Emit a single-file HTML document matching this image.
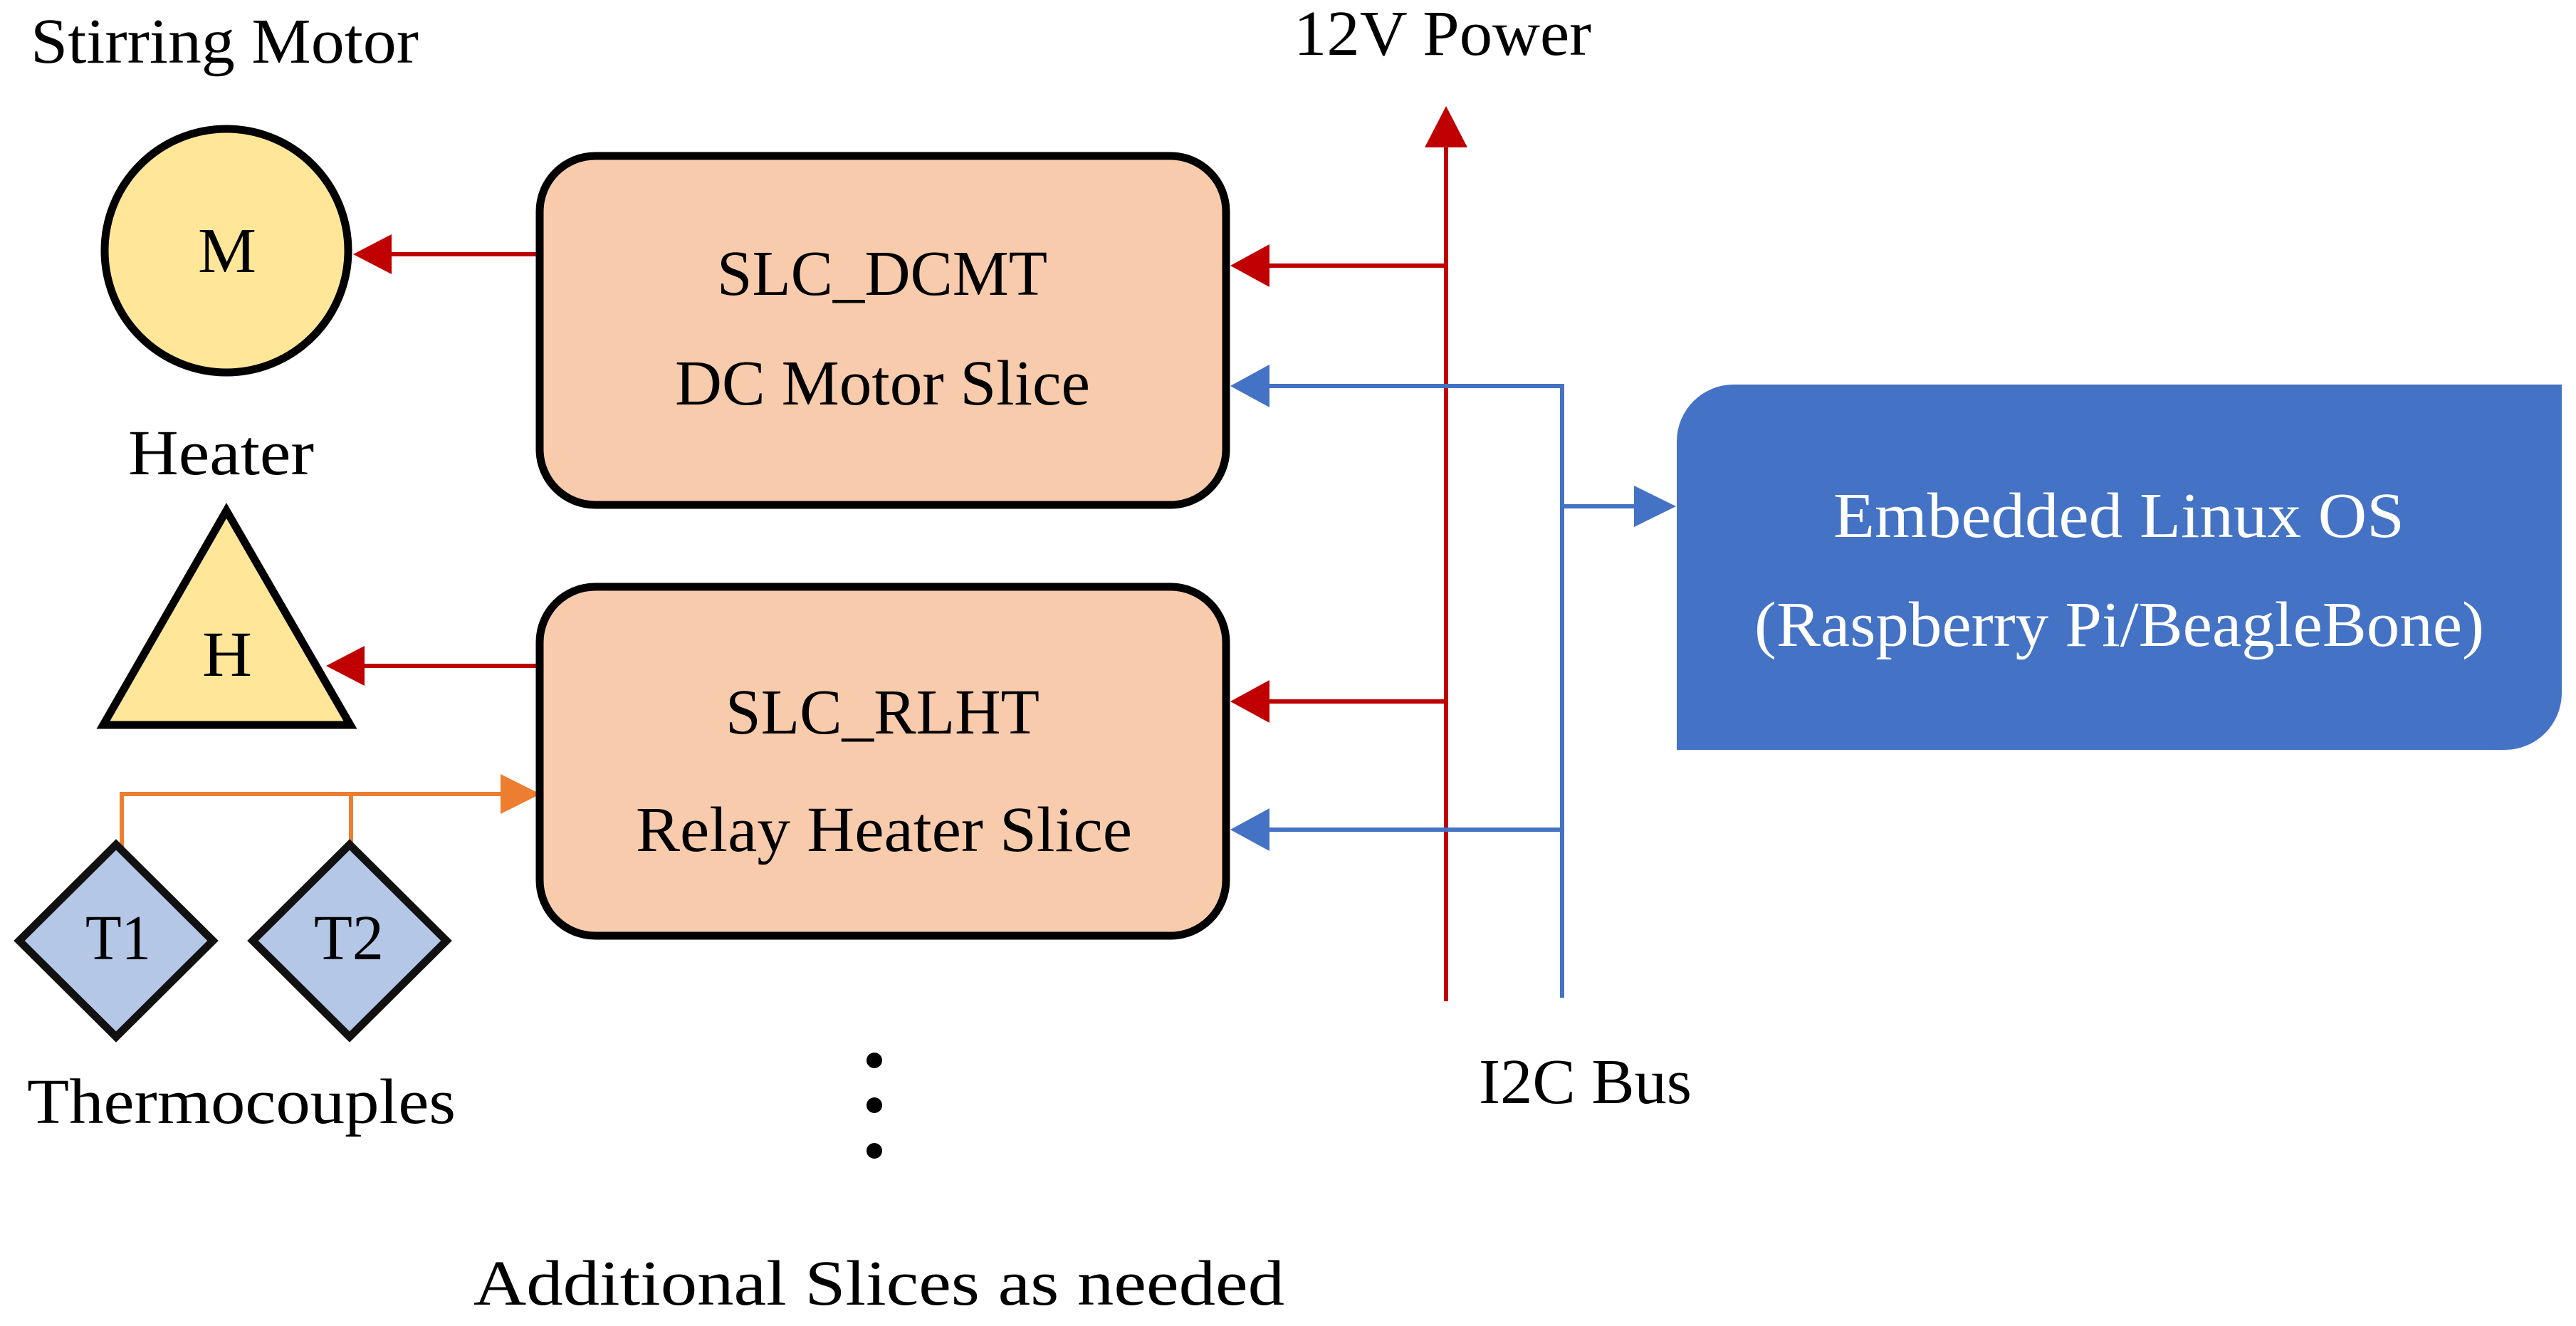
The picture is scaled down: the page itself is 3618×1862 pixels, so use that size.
<!DOCTYPE html>
<html>
<head>
<meta charset="utf-8">
<style>
html,body{margin:0;padding:0;background:#fff;width:3618px;height:1862px;overflow:hidden}
svg{display:block}
text{font-family:"Liberation Serif",serif;font-size:90px;fill:#000}
</style>
</head>
<body>
<svg width="3618" height="1862" viewBox="0 0 3618 1862" xmlns="http://www.w3.org/2000/svg">
<rect width="3618" height="1862" fill="#fff"/>

<!-- connectors -->
<g fill="none" stroke-width="6">
  <path d="M753 357H545" stroke="#C00000"/>
  <path d="M753 935H507" stroke="#C00000"/>
  <path d="M2031 1406V200" stroke="#C00000"/>
  <path d="M2031 373H1778" stroke="#C00000"/>
  <path d="M2031 985H1778" stroke="#C00000"/>
  <path d="M2194 1401V542H1778" stroke="#4472C4"/>
  <path d="M2194 711H2300" stroke="#4472C4"/>
  <path d="M2194 1165H1778" stroke="#4472C4"/>
  <path d="M171 1190V1115H710" stroke="#ED7D31"/>
  <path d="M493 1190V1115" stroke="#ED7D31"/>
</g>

<!-- arrowheads -->
<polygon points="496,357 550,329 550,385" fill="#C00000"/>
<polygon points="458,935 512,907 512,963" fill="#C00000"/>
<polygon points="2031,149 2001,207 2061,207" fill="#C00000"/>
<polygon points="1728,373 1783,343 1783,403" fill="#C00000"/>
<polygon points="1728,985 1783,955 1783,1015" fill="#C00000"/>
<polygon points="1728,542 1783,512 1783,572" fill="#4472C4"/>
<polygon points="1728,1165 1783,1135 1783,1195" fill="#4472C4"/>
<polygon points="2354,711 2295,682 2295,740" fill="#4472C4"/>
<polygon points="759,1115 703,1087 703,1143" fill="#ED7D31"/>

<!-- shapes -->
<circle cx="318" cy="352" r="171" fill="#FFE699" stroke="#000" stroke-width="11"/>
<polygon points="318,717 492,1018 145,1018" fill="#FFE699" stroke="#000" stroke-width="11"/>
<polygon points="163,1186 299,1321 163,1456 27,1321" fill="#B4C7E7" stroke="#111" stroke-width="11"/>
<polygon points="491,1186 627,1321 491,1456 355,1321" fill="#B4C7E7" stroke="#111" stroke-width="11"/>
<rect x="758" y="219" width="964" height="490" rx="78" ry="78" fill="#F8CBAD" stroke="#000" stroke-width="11"/>
<rect x="758" y="824" width="964" height="490" rx="78" ry="78" fill="#F8CBAD" stroke="#000" stroke-width="11"/>
<path d="M2435 540H3598V973A80 80 0 0 1 3518 1053H2355V620A80 80 0 0 1 2435 540Z" fill="#4472C4"/>

<!-- dots -->
<ellipse cx="1228" cy="1489" rx="11" ry="11" fill="#000"/>
<ellipse cx="1228" cy="1552" rx="11" ry="11" fill="#000"/>
<ellipse cx="1228" cy="1616" rx="11" ry="11" fill="#000"/>

<!-- labels -->
<text x="43" y="88" textLength="545" lengthAdjust="spacingAndGlyphs">Stirring Motor</text>
<text x="278" y="382" textLength="82" lengthAdjust="spacingAndGlyphs">M</text>
<text x="180" y="666" textLength="261" lengthAdjust="spacingAndGlyphs">Heater</text>
<text x="284" y="949" textLength="70" lengthAdjust="spacingAndGlyphs">H</text>
<text x="120" y="1347" textLength="92" lengthAdjust="spacingAndGlyphs">T1</text>
<text x="441" y="1347" textLength="98" lengthAdjust="spacingAndGlyphs">T2</text>
<text x="38" y="1577" textLength="602" lengthAdjust="spacingAndGlyphs">Thermocouples</text>
<text x="1007" y="414" textLength="464" lengthAdjust="spacingAndGlyphs">SLC_DCMT</text>
<text x="948" y="568" textLength="583" lengthAdjust="spacingAndGlyphs">DC Motor Slice</text>
<text x="1019" y="1030" textLength="441" lengthAdjust="spacingAndGlyphs">SLC_RLHT</text>
<text x="893" y="1195" textLength="697" lengthAdjust="spacingAndGlyphs">Relay Heater Slice</text>
<text x="665" y="1832" textLength="1139" lengthAdjust="spacingAndGlyphs">Additional  Slices as needed</text>
<text x="1817" y="77" textLength="418" lengthAdjust="spacingAndGlyphs">12V Power</text>
<text x="2077" y="1549" textLength="299" lengthAdjust="spacingAndGlyphs">I2C Bus</text>
<text x="2575" y="754" textLength="802" lengthAdjust="spacingAndGlyphs" style="fill:#fff">Embedded Linux OS</text>
<text x="2464" y="907" textLength="1025" lengthAdjust="spacingAndGlyphs" style="fill:#fff">(Raspberry Pi/BeagleBone)</text>
</svg>
</body>
</html>
